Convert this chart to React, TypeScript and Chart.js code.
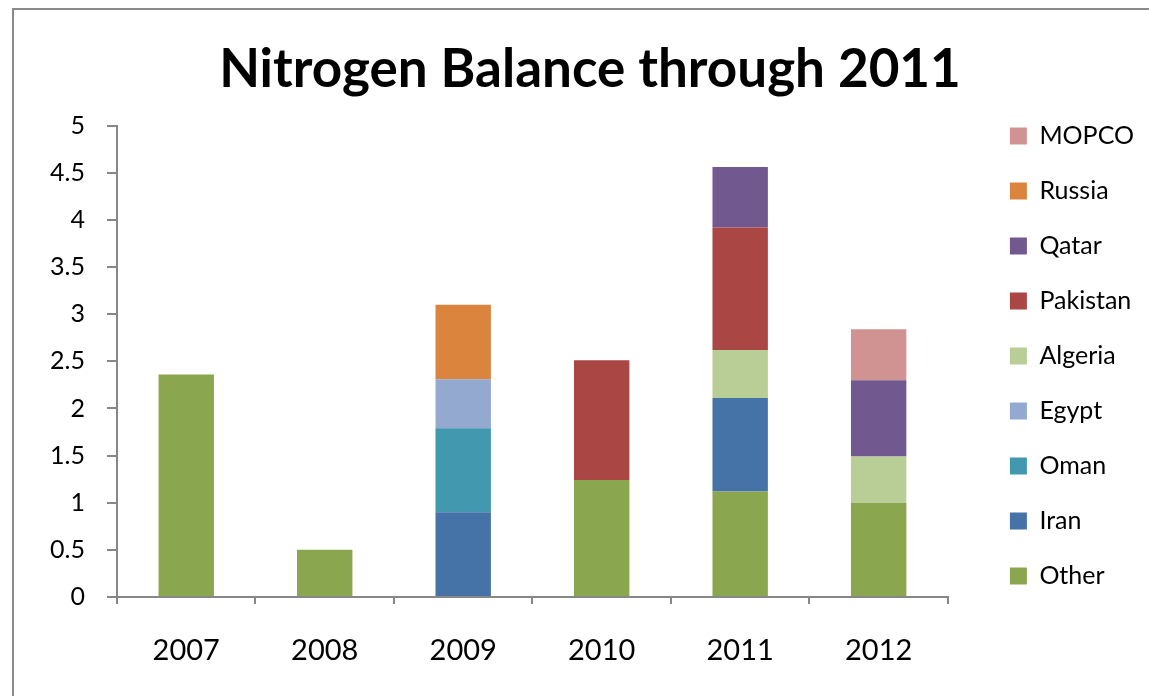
import React, { useEffect, useRef } from "react";
import { Chart, registerables } from "chart.js";

Chart.register(...registerables);

const categories = ["2007", "2008", "2009", "2010", "2011", "2012"];
const otherValues = [2.36, 0.5, null, 1.24, 1.12, 1.0];
const iranValues = [null, null, 0.9, null, 0.99, null];
const omanValues = [null, null, 0.89, null, null, null];
const egyptValues = [null, null, 0.52, null, null, null];
const algeriaValues = [null, null, null, null, 0.51, 0.49];
const pakistanValues = [null, null, null, 1.27, 1.3, null];
const qatarValues = [null, null, null, null, 0.64, 0.81];
const russiaValues = [null, null, 0.79, null, null, null];
const mopcoValues = [null, null, null, null, null, 0.54];
const yTickLabels = ["0", "0.5", "1", "1.5", "2", "2.5", "3", "3.5", "4", "4.5", "5"];

const FONT = "Lato";
const AXIS_GRAY = "#878787";

export default function App() {
  const canvasRef = useRef<HTMLCanvasElement | null>(null);

  useEffect(() => {
    const canvas = canvasRef.current;
    if (!canvas) return;
    const chart = new Chart(canvas, {
      type: "bar",
      data: {
        labels: categories,
        datasets: [
          { label: "Other", data: otherValues, backgroundColor: "#8AA64E" },
          { label: "Iran", data: iranValues, backgroundColor: "#4572A7" },
          { label: "Oman", data: omanValues, backgroundColor: "#4198AF" },
          { label: "Egypt", data: egyptValues, backgroundColor: "#93A9CF" },
          { label: "Algeria", data: algeriaValues, backgroundColor: "#B9CD96" },
          { label: "Pakistan", data: pakistanValues, backgroundColor: "#AA4643" },
          { label: "Qatar", data: qatarValues, backgroundColor: "#71588F" },
          { label: "Russia", data: russiaValues, backgroundColor: "#DB843D" },
          { label: "MOPCO", data: mopcoValues, backgroundColor: "#D19392" },
        ],
      },
      options: {
        responsive: false,
        animation: false,
        layout: { padding: { left: 22, top: 6, right: 5, bottom: 0 } },
        datasets: {
          bar: { categoryPercentage: 1, barPercentage: 0.4 },
        },
        plugins: {
          title: {
            display: true,
            text: "Nitrogen Balance through 2011",
            color: "#000",
            font: { family: FONT, size: 53, weight: "bold" },
            padding: { top: 22, bottom: 24 },
          },
          legend: {
            position: "right",
            reverse: true,
            labels: {
              color: "#000",
              boxWidth: 17,
              boxHeight: 17,
              padding: 30,
              font: { family: FONT, size: 25 },
            },
          },
          tooltip: { enabled: false },
        },
        scales: {
          x: {
            stacked: true,
            grid: {
              display: true,
              drawOnChartArea: false,
              drawTicks: true,
              tickLength: 7,
              color: AXIS_GRAY,
              lineWidth: 2,
              offset: true,
            },
            border: { display: true, color: AXIS_GRAY, width: 2 },
            ticks: {
              color: "#000",
              font: { family: FONT, size: 29 },
              padding: 29,
            },
            afterFit: (s: any) => {
              s.height = 99;
            },
          },
          y: {
            stacked: true,
            min: 0,
            max: 5,
            grid: {
              display: true,
              drawOnChartArea: false,
              drawTicks: true,
              tickLength: 10,
              color: AXIS_GRAY,
              lineWidth: 2,
            },
            border: { display: true, color: AXIS_GRAY, width: 2 },
            ticks: {
              stepSize: 0.5,
              color: "#000",
              font: { family: FONT, size: 25 },
              padding: 22,
              callback: (_v: any, i: number) => yTickLabels[i],
            },
            afterFit: (s: any) => {
              s.width = 81;
            },
          },
          spacer: {
            type: "linear",
            position: "right",
            display: true,
            grid: { display: false },
            border: { display: false },
            ticks: { display: false },
            afterFit: (s: any) => {
              s.width = 32;
            },
          },
        },
      } as any,
    });
    return () => chart.destroy();
  }, []);

  return (
    <div
      style={{
        position: "fixed",
        left: 0,
        top: 0,
        width: 1149,
        height: 696,
        overflow: "hidden",
        background: "#fff",
      }}
    >
      <div
        style={{
          position: "absolute",
          left: 12,
          top: 8,
          width: 1149,
          height: 700,
          borderLeft: "2px solid #8a8a8a",
          borderTop: "2px solid #8a8a8a",
        }}
      />
      <canvas
        ref={canvasRef}
        width={1135}
        height={686}
        style={{ position: "absolute", left: 14, top: 10, width: 1135, height: 686 }}
      />
    </div>
  );
}
